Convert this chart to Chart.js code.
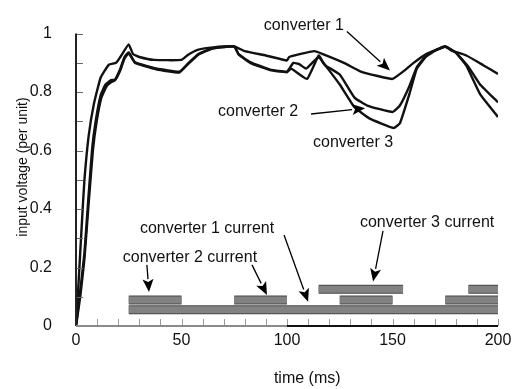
<!DOCTYPE html>
<html>
<head>
<meta charset="utf-8">
<script src="https://cdn.jsdelivr.net/npm/chart.js@4"></script>
<style>
  html, body { margin: 0; padding: 0; background: #fff; }
  #wrap { width: 518px; height: 389px; }
</style>
</head>
<body>
<div id="wrap"><canvas id="chart" width="518" height="389"></canvas></div>
<script>
// time axis (ms) and input voltage (per unit) for each converter
const t1 = [0, 1, 2, 3, 4, 6, 8.5, 11.7, 15.6, 19, 21, 25, 27, 30, 37, 50, 53, 58, 65, 75, 80, 90, 100, 101, 106, 113, 117, 127, 135, 143, 150, 155, 160, 166, 175, 178, 185, 193, 200];
const conv1 = [0, 0.12, 0.25, 0.38, 0.5, 0.65, 0.76, 0.85, 0.894, 0.9, 0.92, 0.963, 0.93, 0.92, 0.91, 0.91, 0.927, 0.945, 0.953, 0.956, 0.94, 0.925, 0.908, 0.92, 0.93, 0.94, 0.93, 0.9, 0.87, 0.855, 0.845, 0.87, 0.9, 0.93, 0.955, 0.942, 0.925, 0.892, 0.862];

const t2 = [0, 2, 4, 6, 7.7, 9.3, 11.7, 14, 16.4, 18.5, 21, 23, 25, 28, 38, 49, 53, 58, 65, 75, 77, 82.5, 92, 100, 103, 106, 109, 115, 118, 125, 132, 138, 150, 153.5, 158, 161.5, 166, 171, 175, 180, 186, 191.5, 200];
const conv2 = [0, 0.12, 0.25, 0.45, 0.61, 0.7, 0.79, 0.826, 0.84, 0.843, 0.88, 0.92, 0.936, 0.902, 0.881, 0.87, 0.897, 0.93, 0.95, 0.956, 0.93, 0.903, 0.877, 0.87, 0.9, 0.895, 0.88, 0.92, 0.892, 0.86, 0.781, 0.754, 0.732, 0.754, 0.82, 0.885, 0.925, 0.945, 0.956, 0.935, 0.886, 0.826, 0.765];

const t3 = [0, 2, 4, 6, 8, 9.8, 12, 14.5, 17, 18.5, 21, 23, 25, 28, 38, 49, 53, 58, 65, 75, 77, 82.5, 92, 100, 102, 109.5, 115, 117, 125, 132, 139, 150.5, 153.5, 158, 161.5, 166, 171, 175, 180, 185, 191.5, 200];
const conv3 = [0, 0.1, 0.23, 0.42, 0.6, 0.7, 0.78, 0.82, 0.835, 0.84, 0.875, 0.915, 0.933, 0.9, 0.878, 0.867, 0.895, 0.928, 0.95, 0.956, 0.93, 0.9, 0.875, 0.868, 0.88, 0.845, 0.925, 0.903, 0.826, 0.748, 0.71, 0.677, 0.693, 0.793, 0.88, 0.922, 0.945, 0.956, 0.935, 0.89, 0.793, 0.715];

// current indicator bars: [start, end] in ms, with the level each row sits at
const currentLevels = [0.056, 0.089, 0.126];
const conv1Current = [[25, 200]];
const conv2Current = [[25, 50], [75, 100], [125, 150], [175, 200]];
const conv3Current = [[115, 155], [186, 200]];

const xTicks = [0, 50, 100, 150, 200];
const yTickLabels = ['0', '0.2', '0.4', '0.6', '0.8', '1'];

// annotation texts and arrows (data coords)
const notes = [
    { text: 'converter 1', x: 108, y: 1.026 },
    { text: 'converter 2', x: 86.3, y: 0.732 },
    { text: 'converter 3', x: 131.3, y: 0.626 },
    { text: 'converter 1 current', x: 62.1, y: 0.334 },
    { text: 'converter 2 current', x: 54, y: 0.235 },
    { text: 'converter 3 current', x: 166.4, y: 0.354 }
];
const arrows = [
    [128.4, 1.007, 148.8, 0.874],
    [111.4, 0.725, 137, 0.745],
    [98.6, 0.311, 110, 0.083],
    [33.6, 0.209, 34.6, 0.116],
    [83.4, 0.209, 90.5, 0.106],
    [145.5, 0.325, 140.8, 0.152]
];

const FONT = '"Liberation Sans", Arial, sans-serif';

function toPoints(xs, ys) {
    return xs.map((x, i) => ({ x: x, y: ys[i] }));
}

function segPoints(segs, level) {
    const pts = [];
    segs.forEach(s => {
        pts.push({ x: s[0], y: level });
        pts.push({ x: s[1], y: level });
        pts.push({ x: s[1], y: null });
    });
    return pts;
}

const barRows = [
    segPoints(conv1Current, currentLevels[0]),
    segPoints(conv2Current, currentLevels[1]),
    segPoints(conv3Current, currentLevels[2])
];

const datasets = [];
barRows.forEach(rows => {
    datasets.push({ data: rows, borderColor: '#474747', borderWidth: 9, borderCapStyle: 'butt', pointRadius: 0, spanGaps: false, order: 3 });
    datasets.push({ data: rows, borderColor: '#828282', borderWidth: 7, borderCapStyle: 'butt', pointRadius: 0, spanGaps: false, order: 2 });
});
[[t1, conv1], [t2, conv2], [t3, conv3]].forEach(p => {
    datasets.push({ data: toPoints(p[0], p[1]), borderColor: '#111', borderWidth: 2.4, pointRadius: 0, tension: 0.12, order: 1 });
});

// extra drawing: axis lines, inner ticks, titles, notes, arrows
const decor = {
    id: 'decor',
    afterDraw(chart) {
        const ctx = chart.ctx;
        const xs = chart.scales.x, ys = chart.scales.y;
        const a = chart.chartArea;
        ctx.save();

        // inner tick marks
        ctx.strokeStyle = '#999';
        ctx.lineWidth = 1;
        for (let t = 10; t <= 200; t += 10) {
            const px = Math.round(xs.getPixelForValue(t)) + 0.5;
            ctx.beginPath(); ctx.moveTo(px, a.bottom); ctx.lineTo(px, a.bottom - 7); ctx.stroke();
        }
        ctx.strokeStyle = '#666';
        for (let v = 0.1; v <= 1.001; v += 0.1) {
            const py = Math.round(ys.getPixelForValue(v)) + 0.5;
            ctx.beginPath(); ctx.moveTo(a.left, py); ctx.lineTo(a.left + 7, py); ctx.stroke();
        }

        // axis lines
        ctx.lineWidth = 2;
        ctx.strokeStyle = '#222';
        ctx.beginPath(); ctx.moveTo(a.left, a.top); ctx.lineTo(a.left, a.bottom); ctx.stroke();
        ctx.strokeStyle = '#8a8a8a';
        ctx.beginPath(); ctx.moveTo(a.left, a.bottom); ctx.lineTo(xs.getPixelForValue(100), a.bottom); ctx.stroke();
        ctx.strokeStyle = '#111';
        ctx.beginPath(); ctx.moveTo(xs.getPixelForValue(100), a.bottom); ctx.lineTo(a.right, a.bottom); ctx.stroke();

        // axis titles
        ctx.fillStyle = '#111';
        ctx.textAlign = 'center';
        ctx.textBaseline = 'middle';
        ctx.font = '16px ' + FONT;
        ctx.fillText('time (ms)', a.left + (a.right - a.left) * 0.548, 379);
        ctx.save();
        ctx.translate(23, 167);
        ctx.rotate(-Math.PI / 2);
        ctx.font = '14px ' + FONT;
        ctx.fillText('input voltage (per unit)', 0, 0);
        ctx.restore();

        // notes
        ctx.font = '16px ' + FONT;
        notes.forEach(n => {
            ctx.fillText(n.text, xs.getPixelForValue(n.x), ys.getPixelForValue(n.y));
        });

        // arrows
        ctx.strokeStyle = '#000';
        ctx.fillStyle = '#000';
        ctx.lineWidth = 1.3;
        arrows.forEach(ar => {
            const x0 = xs.getPixelForValue(ar[0]), y0 = ys.getPixelForValue(ar[1]);
            const x1 = xs.getPixelForValue(ar[2]), y1 = ys.getPixelForValue(ar[3]);
            const ang = Math.atan2(y1 - y0, x1 - x0);
            const len = 13, hw = 5.5;
            const bx = x1 - len * Math.cos(ang), by = y1 - len * Math.sin(ang);
            ctx.beginPath(); ctx.moveTo(x0, y0); ctx.lineTo(bx, by); ctx.stroke();
            ctx.beginPath();
            ctx.moveTo(x1, y1);
            ctx.lineTo(bx + hw * Math.sin(ang), by - hw * Math.cos(ang));
            ctx.lineTo(bx + 3 * Math.cos(ang), by + 3 * Math.sin(ang));
            ctx.lineTo(bx - hw * Math.sin(ang), by + hw * Math.cos(ang));
            ctx.closePath();
            ctx.fill();
        });
        ctx.restore();
    }
};

new Chart(document.getElementById('chart').getContext('2d'), {
    type: 'line',
    data: { datasets: datasets },
    options: {
        responsive: false,
        animation: false,
        layout: { padding: { top: 24, right: 20, left: 0, bottom: 0 } },
        plugins: { legend: { display: false }, tooltip: { enabled: false } },
        scales: {
            x: {
                type: 'linear',
                min: 0,
                max: 200,
                afterFit: s => { s.height = 63; },
                afterBuildTicks: s => { s.ticks = xTicks.map(v => ({ value: v })); },
                grid: { display: false, drawTicks: false },
                border: { display: false },
                ticks: { color: '#111', font: { family: FONT, size: 16 }, padding: 5, maxRotation: 0 }
            },
            y: {
                min: 0,
                max: 1,
                afterFit: s => { s.width = 76; },
                afterBuildTicks: s => { s.ticks = yTickLabels.map(l => ({ value: parseFloat(l) })); },
                grid: { display: false, drawTicks: false },
                border: { display: false },
                ticks: {
                    color: '#111',
                    font: { family: FONT, size: 16 },
                    padding: 24,
                    callback: (v, i) => yTickLabels[i]
                }
            }
        }
    },
    plugins: [decor]
});
</script>
</body>
</html>
